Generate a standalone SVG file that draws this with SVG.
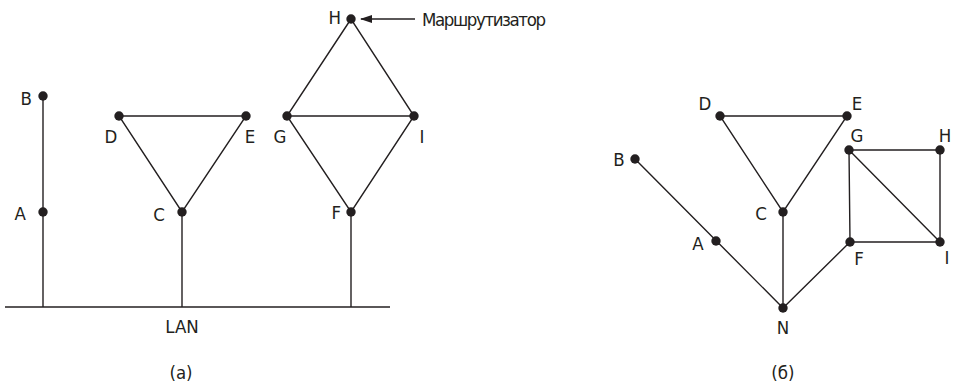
<svg xmlns="http://www.w3.org/2000/svg" width="960" height="385" viewBox="0 0 960 385">
<style>
.e{stroke:#231f20;stroke-width:1.4;fill:none}
.n{fill:#231f20}
text{font-family:"DejaVu Sans Condensed","DejaVu Sans","Liberation Sans",sans-serif;font-stretch:condensed;font-size:18.5px;fill:#231f20;dominant-baseline:central}
.m{text-anchor:middle}
.r{text-anchor:end}
</style>
<defs>
<marker id="ah" markerWidth="12" markerHeight="8" refX="11" refY="4" orient="auto" markerUnits="userSpaceOnUse">
<path d="M0,0 L12,4 L0,8 Z" fill="#231f20"/>
</marker>
</defs>
<rect width="960" height="385" fill="#fff"/>
<g id="connectors">
<line class="e" x1="5" y1="307" x2="390" y2="307"/>
<line class="e" x1="43" y1="96" x2="43" y2="307"/>
<line class="e" x1="182" y1="212" x2="182" y2="307"/>
<line class="e" x1="351" y1="212" x2="351" y2="307"/>
<path class="e" d="M119,116 L246,116 L182,212 Z"/>
<path class="e" d="M351,19 L287,116 L351,212 L414,116 Z M287,116 L414,116"/>
<line class="e" x1="415" y1="19" x2="361" y2="19" marker-end="url(#ah)"/>
<path class="e" d="M720,116 L847,116 L783,212 Z"/>
<path class="e" d="M635,159 L783,308 L850,242 M783,212 L783,308"/>
<path class="e" d="M849,150 L940,150 L940,242 L850,242 Z M849,150 L940,242"/>
</g>
<g id="lan"><text class="m" x="182" y="326">LAN</text></g>
<g id="a-B"><circle class="n" cx="43" cy="96" r="4.7"/><text class="r" x="32" y="98">B</text></g>
<g id="a-A"><circle class="n" cx="43" cy="212" r="4.7"/><text class="r" x="26" y="213">A</text></g>
<g id="a-D"><circle class="n" cx="119" cy="116" r="4.7"/><text class="m" x="111" y="136">D</text></g>
<g id="a-E"><circle class="n" cx="246" cy="116" r="4.7"/><text class="m" x="250" y="136">E</text></g>
<g id="a-C"><circle class="n" cx="182" cy="212" r="4.7"/><text class="r" x="165" y="214">C</text></g>
<g id="a-G"><circle class="n" cx="287" cy="116" r="4.7"/><text class="m" x="280" y="136">G</text></g>
<g id="a-I"><circle class="n" cx="414" cy="116" r="4.7"/><text class="m" x="422" y="136">I</text></g>
<g id="a-F"><circle class="n" cx="351" cy="212" r="4.7"/><text class="r" x="341" y="212">F</text></g>
<g id="a-H"><circle class="n" cx="351" cy="19" r="4.7"/><text class="r" x="341" y="17">H</text></g>
<g id="router-label"><text x="422" y="19" textLength="124">Маршрутизатор</text></g>
<g id="b-D"><circle class="n" cx="720" cy="116" r="4.7"/><text class="m" x="705" y="103">D</text></g>
<g id="b-E"><circle class="n" cx="847" cy="116" r="4.7"/><text class="m" x="857" y="103">E</text></g>
<g id="b-G"><circle class="n" cx="849" cy="150" r="4.7"/><text class="m" x="857" y="135">G</text></g>
<g id="b-H"><circle class="n" cx="940" cy="150" r="4.7"/><text class="m" x="945" y="135">H</text></g>
<g id="b-B"><circle class="n" cx="635" cy="159" r="4.7"/><text class="m" x="619" y="159">B</text></g>
<g id="b-C"><circle class="n" cx="783" cy="212" r="4.7"/><text class="m" x="761" y="213">C</text></g>
<g id="b-A"><circle class="n" cx="716" cy="241" r="4.7"/><text class="m" x="698" y="243">A</text></g>
<g id="b-F"><circle class="n" cx="850" cy="242" r="4.7"/><text class="m" x="859" y="258">F</text></g>
<g id="b-I"><circle class="n" cx="940" cy="242" r="4.7"/><text class="m" x="947" y="257">I</text></g>
<g id="b-N"><circle class="n" cx="783" cy="308" r="4.7"/><text class="m" x="783" y="327">N</text></g>
<g id="captions"><text class="m" x="181" y="372">(a)</text><text class="m" x="783" y="372">(б)</text></g>
</svg>
